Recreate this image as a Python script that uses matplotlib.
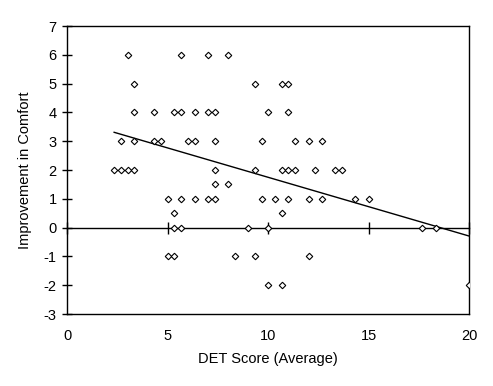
import numpy as np
import matplotlib
matplotlib.use("Agg")
import matplotlib.pyplot as plt

plt.rcParams['font.family'] = ['Liberation Sans', 'DejaVu Sans']
plt.rcParams['axes.unicode_minus'] = False

# DET score (average) for each subject, grouped by improvement level
det_6 = [3.0, 5.67, 7.0, 8.0]
det_5 = [3.33, 9.33, 10.67, 11.0]
det_4 = [3.33, 4.33, 5.33, 5.67, 6.33, 7.0, 7.33, 10.0, 11.0]
det_3 = [2.67, 3.33, 4.33, 4.67, 6.0, 6.33, 7.33, 9.67, 11.33, 12.0, 12.67]
det_2 = [2.33, 2.67, 3.0, 3.33, 7.33, 9.33, 10.67, 11.0, 11.33, 12.33, 13.33, 13.67]
det_1_5 = [7.33, 8.0]
det_1 = [5.0, 5.67, 6.33, 7.0, 7.33, 9.67, 10.33, 11.0, 12.0, 12.67, 14.33, 15.0]
det_0_5 = [5.33, 10.67]
det_0 = [5.33, 5.67, 9.0, 10.0, 17.67, 18.33]
det_m1 = [5.0, 5.33, 8.33, 9.33, 12.0]
det_m2 = [10.0, 10.67, 20.0]

groups = [(6, det_6), (5, det_5), (4, det_4), (3, det_3), (2, det_2),
          (1.5, det_1_5), (1, det_1), (0.5, det_0_5), (0, det_0),
          (-1, det_m1), (-2, det_m2)]

# linear trendline as shown on the chart
trend_slope = -0.204
trend_intercept = 3.785

x = np.array([v for _, xs in groups for v in xs])
y = np.array([lvl for lvl, xs in groups for _ in xs], dtype=float)

xf = np.array([x.min(), x.max()])

fig = plt.figure(figsize=(4.93, 3.86), dpi=100)
ax = fig.add_axes([0.1365, 0.1865, 0.952 - 0.1365, 0.9326 - 0.1865])

ax.plot(x, y, linestyle='none', marker='D', markersize=3.3,
        markerfacecolor='white', markeredgecolor='black', markeredgewidth=0.8,
        zorder=3)
ax.plot(xf, trend_slope * xf + trend_intercept, color='black', linewidth=1, zorder=2)

ax.set_xlim(0, 20)
ax.set_ylim(-3, 7)
ax.set_xticks([0, 5, 10, 15, 20])
ax.set_yticks(range(-3, 8))

for s in ax.spines.values():
    s.set_linewidth(1)
    s.set_color('black')

ax.tick_params(axis='x', length=0, pad=10.5, labelsize=10.5)
ax.tick_params(axis='y', direction='inout', length=7, width=1, pad=4.2, labelsize=10.5)

# axis line crossing at y = 0 with cross ticks
ylo, yhi = ax.get_ylim()
zero_ax = ax.secondary_xaxis((0 - ylo) / (yhi - ylo))
zero_ax.set_xticks([0, 5, 10, 15, 20])
zero_ax.tick_params(direction='inout', length=8, width=1, labelbottom=False, labeltop=False)
zero_ax.spines['bottom'].set_linewidth(1)

ax.set_xlabel('DET Score (Average)', fontsize=10.5, labelpad=6.5)
ax.set_ylabel('Improvement in Comfort', fontsize=10.5, labelpad=8.5)

fig.savefig('out.png', dpi=100, facecolor='white')
